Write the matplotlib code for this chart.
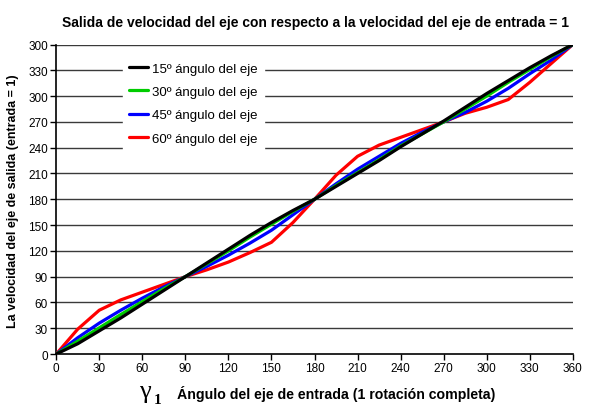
import matplotlib
matplotlib.use("Agg")
import matplotlib.pyplot as plt
import numpy as np

plt.rcParams['font.family'] = ['Liberation Sans', 'DejaVu Sans']

# input angle (deg) and output angle for each shaft angle
angulo_entrada = [0, 15, 30, 45, 60, 75, 90, 105, 120, 135, 150, 165, 180,
                  195, 210, 225, 240, 255, 270, 285, 300, 315, 330, 345, 360]
salida_15 = [0, 12, 27, 42, 58, 74, 90, 106, 122, 138, 153, 167, 180,
             195, 210, 225, 241, 256, 271, 287, 303, 318, 333, 347, 360]
salida_30 = [0, 15, 30.5, 46, 61, 76, 90, 105, 120, 136, 151, 166, 180,
             196, 211, 226, 242, 256, 270, 285, 300, 316, 331, 346, 360]
salida_45 = [0, 19, 36, 51, 65, 78, 90, 102, 115, 129, 144, 162, 180,
             198, 215, 230, 245, 258, 270, 281, 294, 309, 326, 342, 360]
salida_60 = [0, 29, 51, 63, 72, 81, 90, 98, 107, 118, 130, 153, 180,
             208, 230, 243, 252, 261, 270, 280, 287, 296, 316, 338, 360]

series = [
    (salida_15, "black", "15º ángulo del eje"),
    (salida_30, "#00cc00", "30º ángulo del eje"),
    (salida_45, "#0000ff", "45º ángulo del eje"),
    (salida_60, "#ff0000", "60º ángulo del eje"),
]

yticks = [0, 30, 60, 90, 120, 150, 180, 210, 240, 270, 300, 330, 360]
ytick_labels = ["0", "30", "60", "90", "120", "150", "180", "210", "240",
                "270", "300", "330", "300"]
xticks = [0, 30, 60, 90, 120, 150, 180, 210, 240, 270, 300, 330, 360]

fig = plt.figure(figsize=(6.0, 4.1), dpi=100)
ax = fig.add_axes([0.0937, 0.134, 0.861, 0.755])

for v in yticks[1:]:
    ax.axhline(v, color="#3a3a3a", lw=1.0, zorder=1)

# draw red first so black ends up on top
lines = {}
for vals, col, lab in reversed(series):
    ln, = ax.plot(angulo_entrada, vals, color=col, lw=2.3, label=lab,
                  solid_capstyle="round", solid_joinstyle="round", zorder=3)
    lines[lab] = ln

ax.set_xlim(0, 360)
ax.set_ylim(0, 360)
ax.set_xticks(xticks)
ax.set_yticks(yticks)
ax.set_yticklabels(ytick_labels)
ax.tick_params(axis="both", labelsize=8.5, length=4, width=1, direction="out",
               pad=2, colors="black")
for s in ["top", "right"]:
    ax.spines[s].set_visible(False)
for s in ["left", "bottom"]:
    ax.spines[s].set_linewidth(1.2)

handles = [lines[lab] for _, _, lab in series]
leg = ax.legend(handles, [h.get_label() for h in handles], loc="upper left",
                bbox_to_anchor=(0.116, 0.985), fontsize=9.5, frameon=True,
                facecolor="white", edgecolor="white", framealpha=1,
                handlelength=1.4, handletextpad=0.3, labelspacing=0.85,
                borderpad=0.5, fancybox=False)
leg.set_zorder(5)

fig.text(0.525, 0.945, "Salida de velocidad del eje con respecto a la velocidad del eje de entrada = 1",
         ha="center", va="center", fontsize=10, fontweight="bold")
fig.text(0.022, 0.51, "La velocidad del eje de salida (entrada = 1)",
         ha="center", va="center", rotation=90, fontsize=9, fontweight="bold")
fig.text(0.242, 0.045, "γ", ha="center", va="center", fontsize=19,
         family="Liberation Serif")
fig.text(0.262, 0.022, "1", ha="center", va="center", fontsize=11,
         family="Liberation Serif", fontweight="bold")
fig.text(0.295, 0.04, "Ángulo del eje de entrada (1 rotación completa)",
         ha="left", va="center", fontsize=10.2, fontweight="bold")

fig.savefig("out.png", dpi=100)
